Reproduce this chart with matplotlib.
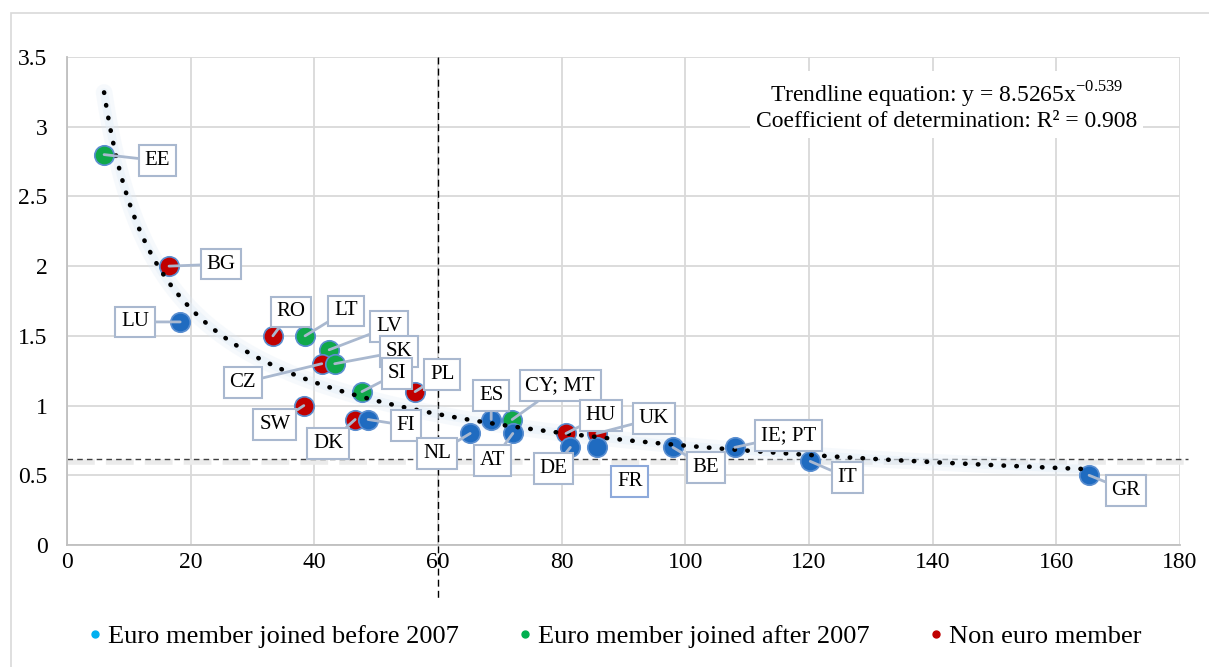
import numpy as np
from matplotlib import pyplot as plt
from matplotlib.lines import Line2D
from matplotlib.patches import Rectangle
import matplotlib.transforms as mtransforms

plt.rcParams['font.family'] = ['Liberation Serif', 'DejaVu Serif']

# country data: x = debt-like metric, y = ratio
countries = ['EE', 'BG', 'LU', 'RO', 'LT', 'LV', 'CZ', 'SK', 'SI', 'PL', 'SW', 'DK', 'FI',
             'NL', 'ES', 'CY; MT', 'AT', 'HU', 'DE', 'UK', 'FR', 'BE', 'IE; PT', 'IT', 'GR']
xVals = [6.0, 16.5, 18.3, 33.3, 38.5, 42.4, 41.2, 43.3, 47.7, 56.3, 38.3, 46.6, 48.7,
         65.2, 68.6, 72.0, 72.1, 80.7, 81.4, 85.7, 85.7, 98.0, 108.0, 120.2, 165.3]
yVals = [2.8, 2.0, 1.6, 1.5, 1.5, 1.4, 1.3, 1.3, 1.1, 1.1, 1.0, 0.9, 0.9,
         0.8, 0.9, 0.9, 0.8, 0.8, 0.7, 0.8, 0.7, 0.7, 0.7, 0.6, 0.5]
# 0 = euro before 2007, 1 = euro after 2007, 2 = non euro
group = [1, 2, 0, 2, 1, 1, 2, 1, 1, 2, 2, 2, 0,
         0, 0, 1, 0, 2, 0, 2, 0, 0, 0, 0, 0]
groupNames = ['Euro member joined before 2007', 'Euro member joined after 2007', 'Non euro member']

trendA = 8.5265
trendB = -0.539
medianX = 60
medianY = 0.62

# label offsets in pixels (box centre relative to point)
labelOffset = {'EE': (53, -6), 'BG': (52, 2), 'LU': (-45, 0), 'RO': (18, 24), 'LT': (41, 25),
               'LV': (60, 23), 'CZ': (-79, -19), 'SK': (64, 12), 'SI': (35, 18), 'PL': (27, 17),
               'SW': (-29, -19), 'DK': (-27, -24), 'FI': (38, -6), 'NL': (-33, -20), 'ES': (0, 24),
               'CY; MT': (48, 34), 'AT': (-20, -27), 'HU': (35, 18), 'DE': (-17, -21),
               'UK': (57, 15), 'FR': (33, -34), 'BE': (33, -20), 'IE; PT': (54, 12),
               'IT': (37, -16), 'GR': (37, -15)}

dotColors = ['#1F6BC0', '#10A84A', '#C00000']
legendColors = ['#00B0F0', '#00B050', '#C00000']
boxEdge = '#A9B8CF'

fig = plt.figure(figsize=(12.09, 6.67), dpi=100)
ax = fig.add_axes([67 / 1209, 122 / 667, 1113 / 1209, 488 / 667])

# figure border
fig.patches.append(Rectangle((11 / 1209, -0.1), 1.2, (654 + 67) / 667, transform=fig.transFigure,
                             fill=False, edgecolor='#D9D9D9', lw=1.2, zorder=0))

ax.set_xlim(0, 180)
ax.set_ylim(0, 3.5)
ax.set_xticks(np.arange(0, 181, 20))
ax.set_yticks(np.arange(0, 3.51, 0.5))
ax.set_yticklabels(['0', '0.5', '1', '1.5', '2', '2.5', '3', '3.5'])
ax.grid(True, color='#D9D9D9', lw=1.3)
ax.set_axisbelow(True)
for s in ['top', 'right']:
    ax.spines[s].set_visible(False)
for s in ['left', 'bottom']:
    ax.spines[s].set_color('#BFBFBF')
    ax.spines[s].set_linewidth(1.3)
ax.tick_params(length=0, labelsize=17, colors='black', pad=5)
ax.tick_params(axis='y', pad=14)

# reference lines
blendX = mtransforms.blended_transform_factory(ax.transData, ax.transAxes)
blendY = mtransforms.blended_transform_factory(ax.transAxes, ax.transData)
ax.plot([medianX, medianX], [1.0, -0.113], transform=blendX, color='black', lw=1,
        ls=(0, (5, 3)), clip_on=False, zorder=2)
ax.plot([0, 1.007], [medianY - 0.025, medianY - 0.025], transform=blendY, color='#EBEBEB', lw=4,
        ls=(0, (5, 2)), clip_on=False, zorder=1)
ax.plot([0, 1.007], [medianY, medianY], transform=blendY, color='#404040', lw=1,
        ls=(0, (4, 3)), clip_on=False, zorder=2)

# trendline
tx = np.linspace(min(xVals), max(xVals), 400)
ty = trendA * tx ** trendB
ax.plot(tx, ty, color='#DDEAF6', lw=12, alpha=0.25, solid_capstyle='round', zorder=2)
ax.plot(tx, ty, color='#E4EEF8', lw=6, alpha=0.45, solid_capstyle='round', zorder=2)
ax.plot(tx, ty, color='black', lw=3.3, ls=(0, (0.1, 2.7)), dash_capstyle='round', zorder=4)

for i in range(len(countries)):
    ax.plot(xVals[i], yVals[i], 'o', color=dotColors[group[i]], markersize=14,
            markeredgecolor='#5A8ED0', markeredgewidth=1.2, zorder=3)

for i in range(len(countries)):
    name = countries[i]
    dx, dy = labelOffset[name]
    isFR = name == 'FR'
    ax.annotate(name, xy=(xVals[i], yVals[i]), xytext=(dx * 0.72, dy * 0.72),
                textcoords='offset points', ha='center', va='center', fontsize=15, zorder=5,
                bbox=dict(boxstyle='square,pad=0.28', fc='white',
                          ec='#8EAADB' if isFR else boxEdge, lw=1.5),
                arrowprops=None if isFR else dict(arrowstyle='-', color=boxEdge, lw=2,
                                                   shrinkA=0, shrinkB=0))

ax.text(0.79, 0.90, 'Trendline equation: y = 8.5265x$^{\\mathdefault{-0.539}}$\n'
        'Coefficient of determination: R² = 0.908',
        transform=ax.transAxes, ha='center', va='center', fontsize=17,
        multialignment='center', linespacing=1.1,
        bbox=dict(fc='white', ec='none', pad=4), zorder=5)

handles = [Line2D([], [], marker='o', ls='none', color=c, markersize=5) for c in legendColors]
fig.legend(handles, groupNames, loc='center', bbox_to_anchor=(0.506, 0.046), ncol=3,
           frameon=False, fontsize=19, handletextpad=0.0, columnspacing=2.0, handlelength=1)

plt.savefig('out.png', dpi=100)
